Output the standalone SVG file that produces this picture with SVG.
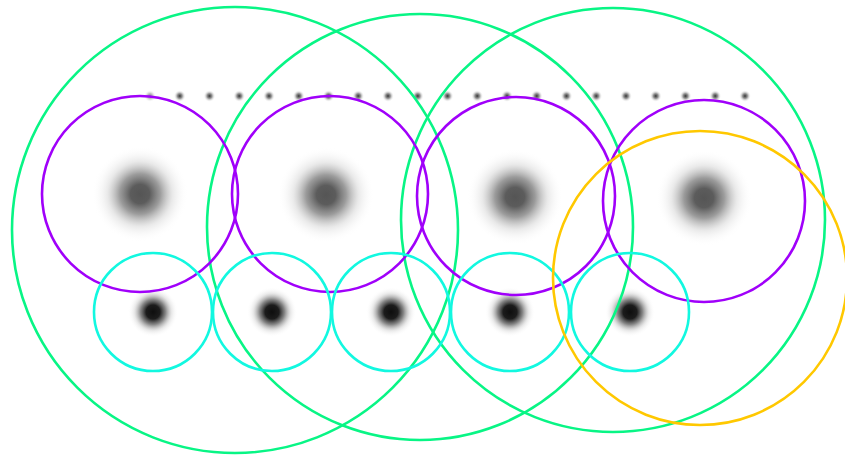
<svg xmlns="http://www.w3.org/2000/svg" width="845" height="461" viewBox="0 0 845 461">
<defs>
<radialGradient id="big">
<stop offset="0" stop-color="#555555"/>
<stop offset="0.2" stop-color="#5c5c5c"/>
<stop offset="0.42" stop-color="#8a8a8a" stop-opacity="0.85"/>
<stop offset="0.68" stop-color="#cfcfcf" stop-opacity="0.45"/>
<stop offset="1" stop-color="#ffffff" stop-opacity="0"/>
</radialGradient>
<radialGradient id="small">
<stop offset="0" stop-color="#0e0e0e"/>
<stop offset="0.28" stop-color="#1c1c1c"/>
<stop offset="0.5" stop-color="#707070" stop-opacity="0.85"/>
<stop offset="0.75" stop-color="#c8c8c8" stop-opacity="0.4"/>
<stop offset="1" stop-color="#ffffff" stop-opacity="0"/>
</radialGradient>
<radialGradient id="dot">
<stop offset="0" stop-color="#333"/>
<stop offset="0.4" stop-color="#777" stop-opacity="0.8"/>
<stop offset="1" stop-color="#fff" stop-opacity="0"/>
</radialGradient>
</defs>
<style>
.c{fill:none;stroke-width:2.6}
.g{stroke:#08f585}
.p{stroke:#a000fa}
.q{stroke:#12f8e0}
.y{stroke:#ffc800}
</style>
<rect width="845" height="461" fill="#ffffff"/>
<g id="blobs">
<circle cx="140" cy="194" r="48" fill="url(#big)"/>
<circle cx="326" cy="195" r="48" fill="url(#big)"/>
<circle cx="515" cy="197" r="48" fill="url(#big)"/>
<circle cx="704" cy="198" r="48" fill="url(#big)"/>
<circle cx="153" cy="312" r="25" fill="url(#small)"/>
<circle cx="272" cy="312" r="25" fill="url(#small)"/>
<circle cx="391" cy="312" r="25" fill="url(#small)"/>
<circle cx="510" cy="312" r="25" fill="url(#small)"/>
<circle cx="630" cy="312" r="25" fill="url(#small)"/>
</g>
<g id="dots">
<circle cx="150" cy="96" r="6" fill="url(#dot)" opacity="0.6"/>
<circle cx="179.75" cy="96" r="6" fill="url(#dot)"/>
<circle cx="209.5" cy="96" r="6" fill="url(#dot)"/>
<circle cx="239.25" cy="96" r="6" fill="url(#dot)"/>
<circle cx="269" cy="96" r="6" fill="url(#dot)"/>
<circle cx="298.75" cy="96" r="6" fill="url(#dot)"/>
<circle cx="328.5" cy="96" r="6" fill="url(#dot)"/>
<circle cx="358.25" cy="96" r="6" fill="url(#dot)"/>
<circle cx="388" cy="96" r="6" fill="url(#dot)"/>
<circle cx="417.75" cy="96" r="6" fill="url(#dot)"/>
<circle cx="447.5" cy="96" r="6" fill="url(#dot)"/>
<circle cx="477.25" cy="96" r="6" fill="url(#dot)"/>
<circle cx="507" cy="96" r="6" fill="url(#dot)"/>
<circle cx="536.75" cy="96" r="6" fill="url(#dot)"/>
<circle cx="566.5" cy="96" r="6" fill="url(#dot)"/>
<circle cx="596.25" cy="96" r="6" fill="url(#dot)"/>
<circle cx="626" cy="96" r="6" fill="url(#dot)"/>
<circle cx="655.75" cy="96" r="6" fill="url(#dot)"/>
<circle cx="685.5" cy="96" r="6" fill="url(#dot)"/>
<circle cx="715.25" cy="96" r="6" fill="url(#dot)"/>
<circle cx="745" cy="96" r="6" fill="url(#dot)"/>
</g>
<g id="green">
<circle class="c g" cx="235" cy="230" r="223"/>
<circle class="c g" cx="420" cy="227" r="213"/>
<circle class="c g" cx="613" cy="220" r="212"/>
</g>
<g id="purple">
<circle class="c p" cx="140" cy="194" r="98"/>
<circle class="c p" cx="330" cy="194" r="98"/>
<circle class="c p" cx="516" cy="196" r="99"/>
<circle class="c p" cx="704" cy="201" r="101"/>
</g>
<g id="cyan">
<circle class="c q" cx="153" cy="312" r="59"/>
<circle class="c q" cx="272" cy="312" r="59"/>
<circle class="c q" cx="391" cy="312" r="59"/>
<circle class="c q" cx="510" cy="312" r="59"/>
<circle class="c q" cx="630" cy="312" r="59"/>
</g>
<g id="yellow">
<circle class="c y" cx="700" cy="278" r="147"/>
</g>
</svg>
